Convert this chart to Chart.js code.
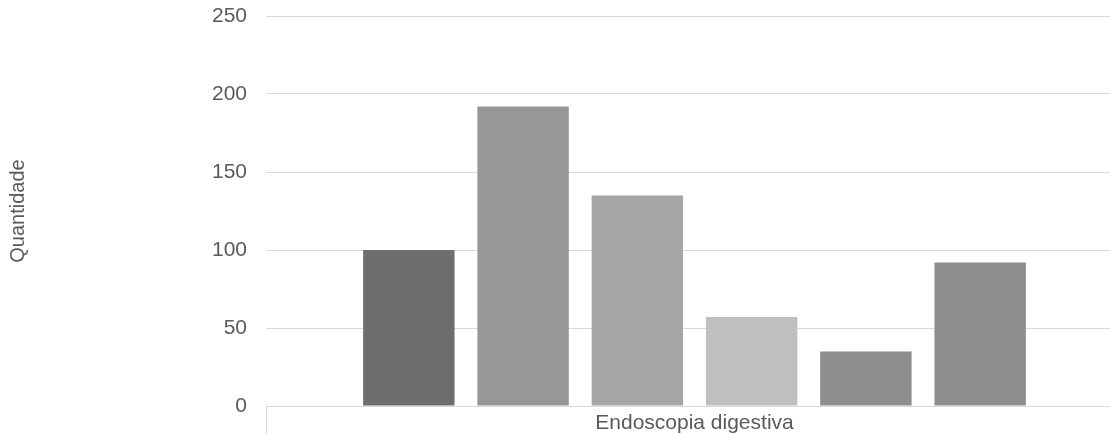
<!DOCTYPE html>
<html lang="pt">
<head>
<meta charset="utf-8">
<title>Endoscopia digestiva</title>
<script src="https://cdn.jsdelivr.net/npm/chart.js@4/dist/chart.umd.min.js"></script>
<style>
    html, body { margin: 0; padding: 0; background: #fff; overflow: hidden; }
    #wrap { width: 1123px; height: 434px; position: relative; }
</style>
</head>
<body>
<div id="wrap"><canvas id="chart"></canvas></div>
<script>
// data
const categories = ['Endoscopia digestiva'];
const seriesNames = ['Série 1', 'Série 2', 'Série 3', 'Série 4', 'Série 5', 'Série 6'];
const seriesValues = [100, 192, 135, 57, 35, 92];
const seriesColors = ['#6e6e6e', '#979797', '#a6a6a6', '#bfbfbf', '#8e8e8e', '#8e8e8e'];
const yTicks = [0, 50, 100, 150, 200, 250];

const textColor = '#595959';
const gridColor = '#d9d9d9';
const fontFamily = 'Liberation Sans, Arial, sans-serif';

const datasets = seriesNames.map((name, i) => ({
    label: name,
    data: [seriesValues[i]],
    backgroundColor: seriesColors[i],
    borderWidth: 0,
    barPercentage: 0.8,
    categoryPercentage: 0.8
}));

new Chart(document.getElementById('chart'), {
    type: 'bar',
    data: { labels: categories, datasets },
    options: {
        responsive: true,
        maintainAspectRatio: false,
        animation: false,
        layout: { padding: { top: 16, right: 0, bottom: 0, left: 0 } },
        plugins: {
            legend: { display: false },
            tooltip: { enabled: false }
        },
        scales: {
            x: {
                grid: {
                    offset: true,
                    drawOnChartArea: false,
                    drawTicks: true,
                    tickLength: 28,
                    color: gridColor
                },
                border: { color: gridColor },
                ticks: {
                    color: textColor,
                    font: { family: fontFamily, size: 21 },
                    padding: -23
                },
                afterFit: (scale) => {
                    scale.height = 28;
                    scale.paddingLeft = 0;
                    scale.paddingRight = 0;
                }
            },
            y: {
                min: 0,
                max: 250,
                afterBuildTicks: (scale) => { scale.ticks = yTicks.map(v => ({ value: v })); },
                grid: { color: gridColor, drawTicks: false },
                border: { display: false },
                ticks: {
                    color: textColor,
                    font: { family: fontFamily, size: 21 },
                    padding: 19
                },
                title: {
                    display: true,
                    text: 'Quantidade',
                    color: textColor,
                    font: { family: fontFamily, size: 20 },
                    padding: { top: 6, bottom: 0 }
                },
                afterFit: (scale) => {
                    scale.width = 266;
                    scale.paddingTop = 0;
                    scale.paddingBottom = 0;
                }
            }
        }
    }
});
</script>
</body>
</html>
